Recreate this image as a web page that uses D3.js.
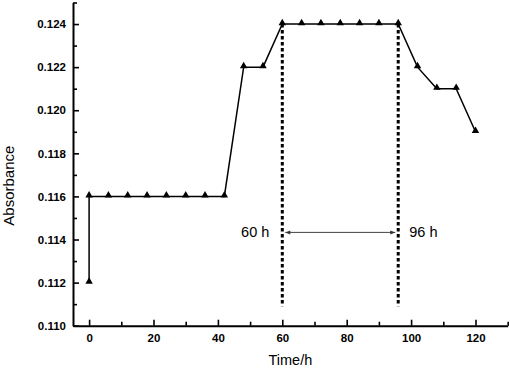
<!DOCTYPE html>
<html>
<head>
<meta charset="utf-8">
<script src="https://cdn.jsdelivr.net/npm/d3@7"></script>
<style>
  html, body { margin: 0; padding: 0; background: #fff; }
  svg { display: block; }
  .tick text { font-family: "Liberation Sans", Arial, sans-serif; font-weight: bold; font-size: 11.5px; fill: #000; }
</style>
</head>
<body>
<svg id="chart" width="510" height="368"></svg>
<script>
// ---- data ----
const time = [0, 0, 6, 12, 18, 24, 30, 36, 42, 48, 54, 60, 66, 72, 78, 84, 90, 96, 102, 108, 114, 120];
const absorbance = [0.112, 0.116, 0.116, 0.116, 0.116, 0.116, 0.116, 0.116, 0.116, 0.122, 0.122,
  0.124, 0.124, 0.124, 0.124, 0.124, 0.124, 0.124, 0.122, 0.121, 0.121, 0.119];
const xTicks = [0, 20, 40, 60, 80, 100, 120];
const xMinorTicks = [10, 30, 50, 70, 90, 110, 130];
const yTicks = [0.110, 0.112, 0.114, 0.116, 0.118, 0.120, 0.122, 0.124];
const yMinorTicks = [0.111, 0.113, 0.115, 0.117, 0.119, 0.121, 0.123, 0.125];
const markerTimes = [60, 96];
const markerLabels = ["60 h", "96 h"];
const markerTop = 0.124, markerBottom = 0.1109, arrowLevel = 0.11433;
const xTitle = "Time/h", yTitle = "Absorbance";

// ---- layout ----
const svg = d3.select("#chart");
const x = d3.scaleLinear().domain([-5, 130]).range([73, 507.7]);
const y = d3.scaleLinear().domain([0.110, 0.125]).range([325.7, 2.5]);

// marker arrow defs
const defs = svg.append("defs");
["start", "end"].forEach(k => {
  defs.append("marker")
    .attr("id", "arr-" + k)
    .attr("viewBox", "0 0 10 10")
    .attr("refX", k === "end" ? 10 : 0).attr("refY", 5)
    .attr("markerWidth", 6).attr("markerHeight", 5)
    .attr("markerUnits", "userSpaceOnUse")
    .attr("orient", "auto")
    .append("path")
    .attr("d", k === "end" ? "M0,1 L10,5 L0,9 Z" : "M10,1 L0,5 L10,9 Z")
    .attr("fill", "#333");
});

// axes
const xAxis = svg.append("g").attr("transform", `translate(0,${y.range()[0]})`)
  .call(d3.axisBottom(x).tickValues(xTicks).tickFormat(d3.format("d"))
    .tickSizeInner(-6).tickSizeOuter(0).tickPadding(8));
svg.append("g").attr("transform", `translate(0,${y.range()[0]})`)
  .call(d3.axisBottom(x).tickValues(xMinorTicks).tickFormat("")
    .tickSizeInner(-4).tickSizeOuter(0))
  .call(g => g.select(".domain").remove());

const yAxis = svg.append("g").attr("transform", `translate(${x.range()[0]},0)`)
  .call(d3.axisLeft(y).tickValues(yTicks).tickFormat(d3.format(".3f"))
    .tickSizeInner(-6).tickSizeOuter(0).tickPadding(7));
svg.append("g").attr("transform", `translate(${x.range()[0]},0)`)
  .call(d3.axisLeft(y).tickValues(yMinorTicks).tickFormat("")
    .tickSizeInner(-4).tickSizeOuter(0))
  .call(g => g.select(".domain").remove());

svg.selectAll(".domain").attr("stroke", "#000").attr("stroke-width", 2);
svg.selectAll(".tick line").attr("stroke", "#000").attr("stroke-width", 1.6);

// axis titles
svg.append("text")
  .attr("x", d3.mean(x.range())).attr("y", 365)
  .attr("text-anchor", "middle")
  .attr("font-family", "Liberation Sans, Arial, sans-serif")
  .attr("font-size", 14.5)
  .text(xTitle);
svg.append("text")
  .attr("transform", `translate(14,${y(0.1165)}) rotate(-90)`)
  .attr("text-anchor", "middle")
  .attr("font-family", "Liberation Sans, Arial, sans-serif")
  .attr("font-size", 15)
  .text(yTitle);

// dotted marker lines
svg.selectAll(".vline").data(markerTimes).join("line")
  .attr("class", "vline")
  .attr("x1", d => x(d)).attr("x2", d => x(d))
  .attr("y1", y(markerTop)).attr("y2", y(markerBottom))
  .attr("stroke", "#000").attr("stroke-width", 3)
  .attr("stroke-dasharray", "3.5,2.5");

// double arrow
svg.append("line")
  .attr("x1", x(markerTimes[0]) + 3).attr("x2", x(markerTimes[1]) - 3)
  .attr("y1", y(arrowLevel)).attr("y2", y(arrowLevel))
  .attr("stroke", "#444").attr("stroke-width", 1)
  .attr("marker-start", "url(#arr-start)")
  .attr("marker-end", "url(#arr-end)");

// labels
svg.append("text")
  .attr("x", x(markerTimes[0]) - 13).attr("y", y(arrowLevel) + 5)
  .attr("text-anchor", "end")
  .attr("font-family", "Liberation Sans, Arial, sans-serif")
  .attr("font-size", 14.5)
  .text(markerLabels[0]);
svg.append("text")
  .attr("x", x(markerTimes[1]) + 11).attr("y", y(arrowLevel) + 5)
  .attr("text-anchor", "start")
  .attr("font-family", "Liberation Sans, Arial, sans-serif")
  .attr("font-size", 14.5)
  .text(markerLabels[1]);

// data line
const pts = time.map((t, i) => [t, absorbance[i]]);
svg.append("path")
  .datum(pts)
  .attr("fill", "none").attr("stroke", "#000").attr("stroke-width", 1.5)
  .attr("d", d3.line().x(d => x(d[0])).y(d => y(d[1])));

svg.selectAll(".pt").data(pts).join("path")
  .attr("class", "pt")
  .attr("transform", d => `translate(${x(d[0])},${y(d[1]) - 1})`)
  .attr("d", d3.symbol(d3.symbolTriangle, 24))
  .attr("fill", "#000");
</script>
</body>
</html>
